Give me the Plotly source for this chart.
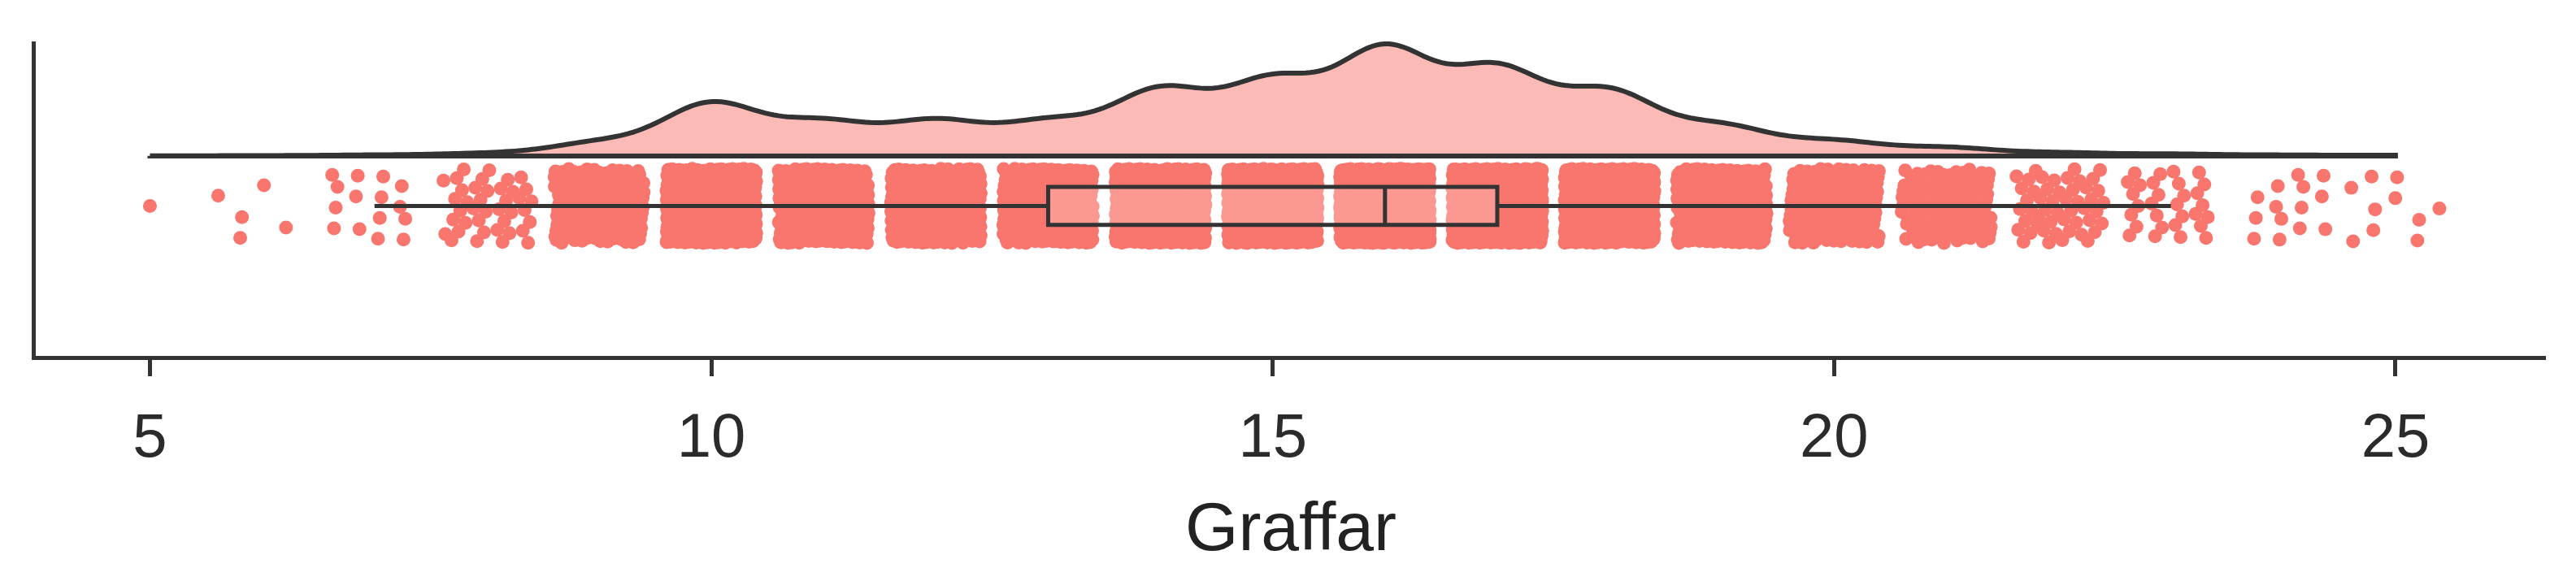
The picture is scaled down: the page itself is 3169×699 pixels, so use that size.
import numpy as np
import plotly.graph_objects as go

scores = list(range(5, 26))
counts = [1, 5, 15, 40, 210, 830, 520, 540, 520, 1020, 1150,
          1650, 1330, 990, 460, 230, 130, 50, 30, 14, 10]

tick_vals = [5, 10, 15, 20, 25]
axis_title = "Graffar"

salmon = "#F8766D"
dark = "#333333"

# vertical layout of the raincloud (y axis is just a layout axis, no ticks)
CLOUD_BASE = 62
CLOUD_HEIGHT = 139
JIT_H = 46
BOX_W = 47
Y_RANGE = [-186, 204]

values = np.repeat(scores, counts).astype(float)
n = len(values)

# density like ggplot: gaussian kernel, bw.nrd0, trimmed to the data range
q1, q3 = np.percentile(values, [25, 75])
sd = values.std(ddof=1)
bw = 0.9 * min(sd, (q3 - q1) / 1.34) * n ** -0.2
grid = np.linspace(values.min(), values.max(), 512)
dens = np.zeros_like(grid)
for s, c in zip(scores, counts):
    dens += c * np.exp(-0.5 * ((grid - s) / bw) ** 2)
dens = dens / dens.max()

cloud_x = np.concatenate([grid, grid[::-1], grid[:1]])
cloud_y = np.concatenate([CLOUD_BASE + dens * CLOUD_HEIGHT,
                          np.full(len(grid), CLOUD_BASE), [CLOUD_BASE + dens[0] * CLOUD_HEIGHT]])

# jitter spread (quasi random R2 sequence so the file is deterministic)
g = 1.32471795724474602596
idx = np.arange(n)
u = (0.5 + idx / g) % 1
v = (0.5 + idx / g ** 2) % 1
pts_x = values + (2 * u - 1) * 0.4
pts_y = (2 * v - 1) * JIT_H

fig = go.Figure()

fig.add_trace(go.Scatter(
    x=cloud_x, y=cloud_y, mode="lines", fill="toself",
    fillcolor="rgba(248,118,109,0.5)",
    line=dict(color=dark, width=6, simplify=False),
    hoverinfo="skip"))

fig.add_trace(go.Scatter(
    x=pts_x, y=pts_y, mode="markers",
    marker=dict(color=salmon, size=17, line=dict(width=0)),
    hoverinfo="skip"))

# box goes on an overlaid axis so it sits on top of the points
fig.add_trace(go.Box(
    x=values, y0=0, orientation="h", boxpoints="outliers", width=BOX_W,
    whiskerwidth=0, fillcolor="rgba(255,255,255,0.25)",
    marker=dict(size=0, opacity=0),
    line=dict(color=dark, width=5), hoverinfo="skip", yaxis="y2"))

font = "Liberation Sans, Arial, sans-serif"
fig.update_layout(
    width=3169, height=699,
    margin=dict(l=36, r=45, t=43, b=269),
    plot_bgcolor="white", paper_bgcolor="white",
    showlegend=False,
    xaxis=dict(range=[3.983, 26.34], tickvals=tick_vals, ticks="outside",
               ticklen=20, tickwidth=5, tickcolor=dark,
               showline=True, linewidth=5, linecolor=dark,
               showgrid=False, zeroline=False, ticklabelstandoff=8,
               tickfont=dict(size=76, color="#2b2b2b", family=font),
               title=dict(text=axis_title, standoff=42,
                          font=dict(size=84, color="#222222", family=font))),
    yaxis=dict(range=Y_RANGE, type="linear", showline=True, linewidth=5,
               linecolor=dark, ticks="", showticklabels=False,
               showgrid=False, zeroline=False),
    yaxis2=dict(range=Y_RANGE, type="linear", overlaying="y", visible=False,
                showgrid=False, zeroline=False),
)

fig.write_html("out.html")
